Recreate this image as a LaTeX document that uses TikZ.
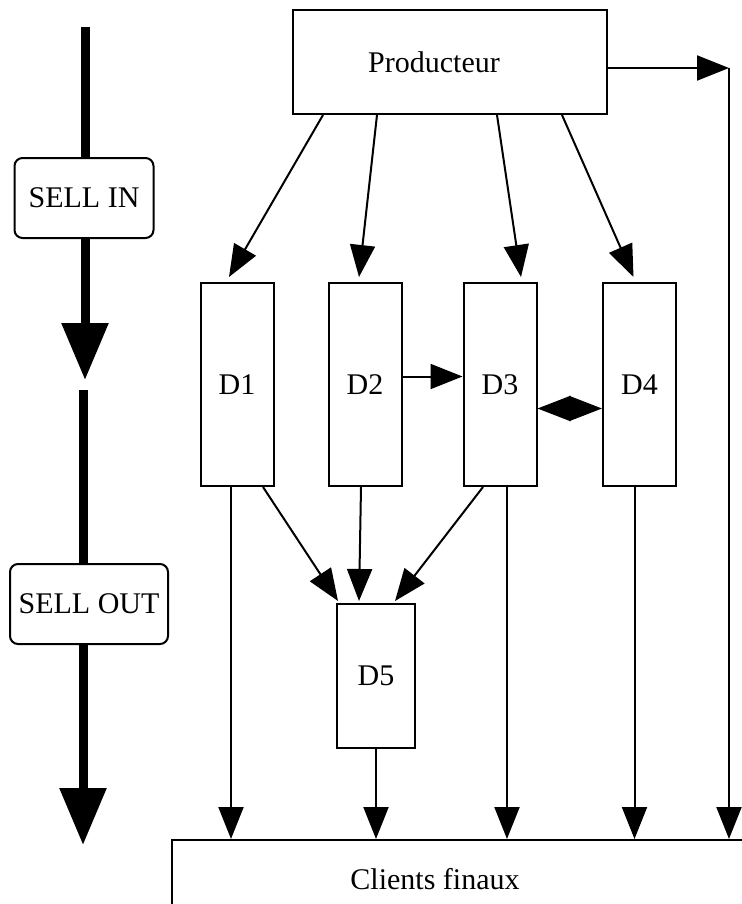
\documentclass[tikz,border=0pt]{standalone}
\usepackage{fontspec}
\setmainfont{Liberation Serif}
\usetikzlibrary{arrows.meta}
\tikzset{
dist box/.style = { rectangle, draw = black, fill = white, line width = 1pt, minimum width = 36.5pt, minimum height = 101.5pt, inner sep = 0pt },
phase box/.style = { rectangle, draw = black, fill = white, line width = 1pt, rounded corners = 4pt, minimum height = 40pt, inner sep = 0pt },
flow/.style = { line width = 1pt, -{Triangle[length = 16pt, width = 12.5pt]} },
big flow/.style = { line width = 4.5pt, -{Triangle[length = 28.5pt, width = 22.5pt]} },
}

\begin{document}
\begin{tikzpicture}[x=0.5pt, y=-0.5pt, font=\fontsize{15}{18}\selectfont]
      \useasboundingbox (0,0) rectangle (742,904);
      \clip (0,0) rectangle (742,904);
      % sell in / sell out
      \node[phase box, minimum width = 69.5pt] (sellin) at (84,198) {SELL IN};
      \node[phase box, minimum width = 79pt] (sellout) at (89,604) {SELL OUT};
      \coordinate (in top) at (85,27);
      \coordinate (in tip) at (85,380);
      \coordinate (out top) at (83,390);
      \coordinate (out tip) at (83,845);
      \draw[line width = 4.5pt] (in top) -- (in top |- sellin.north);
      \draw[big flow] (in top |- sellin.south) -- (in tip);
      \draw[line width = 4.5pt] (out top) -- (out top |- sellout.north);
      \draw[big flow] (out top |- sellout.south) -- (out tip);
      % channel
      \begin{scope}
        \node[dist box, minimum width = 157pt, minimum height = 52pt, label = {[xshift = -8pt]center:Producteur}] (prod) at (450,62) {};
        \node[dist box] (d1) at (237,384.5) {D1};
        \node[dist box] (d2) at (365,384.5) {D2};
        \node[dist box] (d3) at (500,384.5) {D3};
        \node[dist box] (d4) at (639.5,384.5) {D4};
        \node[dist box, minimum width = 39pt, minimum height = 72pt] (d5) at (376,676) {D5};
        \node[dist box, minimum width = 298pt, minimum height = 45pt, label = {[xshift = -17.5pt, yshift = 3pt]center:Clients finaux}] (clients) at (470,885) {};
      \end{scope}
      \foreach \n/\a/\b in {d1/-63.5/-4, d2/-36.5/-3, d3/23.5/10.5, d4/56/-3}
        \draw[flow] ([xshift = \a pt]prod.south) -- ([xshift = \b pt, yshift = 2.5pt]\n.north);
      \draw[flow] ([yshift = 4pt]d2.east) -- ([yshift = 4pt]d3.west);
      \draw[line width = 1pt, {Triangle[length = 16.5pt, width = 12.5pt]}-{Triangle[length = 16.5pt, width = 12.5pt]}] ([yshift = -12pt]d3.east) -- ([yshift = -12pt]d4.west);
      \foreach \n/\a/\b in {d1/13/-19, d2/-2/-8.5, d3/-8.5/9.5}
        \draw[flow] ([xshift = \a pt]\n.south) -- ([xshift = \b pt, yshift = 1pt]d5.north);
      \foreach \n/\a in {d1/-3, d5/0, d3/3.5, d4/-2.5} {
        \coordinate (foot) at ([xshift = \a pt]\n.south);
        \draw[flow] (foot) -- (foot |- clients.north);
      }
      \coordinate (corner) at (729,68);
      \draw[flow] ([yshift = -3pt]prod.east) -- (corner);
      \draw[flow] (corner) -- (corner |- clients.north);
\end{tikzpicture}
\end{document}
